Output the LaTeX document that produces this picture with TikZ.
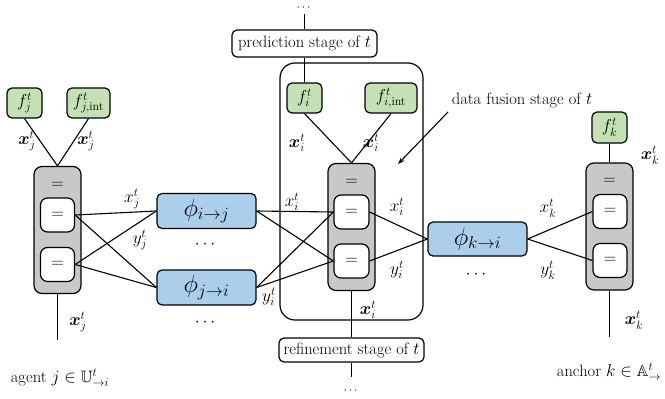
\documentclass[tikz,border=0pt]{standalone}
\usepackage{amsmath,amssymb,bm}
\usetikzlibrary{arrows.meta}
\definecolor{fgreen}{RGB}{197,224,180}
\definecolor{pblue}{RGB}{171,207,235}
\definecolor{cgray}{RGB}{200,200,200}
\begin{document}
\begin{tikzpicture}[x=1pt,y=-1pt,
  font=\fontsize{16.5}{19}\selectfont,
  line width=1.1pt,
  box/.style={draw, rounded corners=5pt, line width=1.2pt, inner sep=0pt},
  fnode/.style={box, fill=fgreen, font=\fontsize{17}{19}\selectfont},
  phinode/.style={box, fill=pblue, minimum width=99pt, minimum height=35pt, font=\fontsize{27}{29}\selectfont},
  graybox/.style={box, fill=cgray, rounded corners=8pt, minimum width=47pt, minimum height=127pt},
  eqbox/.style={box, fill=white, rounded corners=7pt, minimum width=34pt, minimum height=34pt, font=\fontsize{17}{19}\selectfont},
  eqlbl/.style={inner sep=0pt, font=\fontsize{17}{19}\selectfont},
  stagebox/.style={box, fill=white, inner xsep=2pt},
  lbl/.style={inner sep=0pt, font=\fontsize{17}{19}\selectfont},
  dotlbl/.style={inner sep=0pt, font=\fontsize{17}{19}\selectfont},
  smalldots/.style={inner sep=0pt, font=\fontsize{12}{14}\selectfont}
]
\useasboundingbox (0,0) rectangle (665,399);

% ---------- agent j ----------
\node[fnode, minimum width=35pt, minimum height=30pt] (fj) at (24.5,103) {$f^t_j$};
\node[fnode, minimum width=43pt, minimum height=30pt] (fjint) at (88.5,103) {$f^t_{j,\mathrm{int}}$};
\node[graybox] (gj) at (57.5,230) {};
\node[eqlbl] (eqj) at (57.5,185) {$=$};
\node[eqbox] (j1) at (57.5,215) {$=$};
\node[eqbox] (j2) at (57.5,264.5) {$=$};
\coordinate (jb) at (57.5,340);
\draw (fj.south) -- (gj.north);
\draw (fjint.south) -- (gj.north);
\draw (gj.south) -- (jb);
\node[lbl] at (27,141) {$\bm{x}^t_j$};
\node[lbl] at (86,141) {$\bm{x}^t_j$};
\node[lbl] at (78,322) {$\bm{x}^t_j$};
\node (agent) at (60,378) {agent $j\in\mathbb{U}^t_{\to i}$};

% ---------- phi nodes ----------
\node[phinode] (phiij) at (206.5,211) {$\phi_{i\to j}$};
\node[phinode] (phiji) at (206.5,287.5) {$\phi_{j\to i}$};
\node[dotlbl] (dots1) at (206.5,245) {$\cdots$};
\node[dotlbl] (dots2) at (206.5,323) {$\cdots$};
\draw (j1.east) -- (phiij.west);
\draw (j1.east) -- (phiji.west);
\draw (j2.east) -- (phiij.west);
\draw (j2.east) -- (phiji.west);
\node[lbl] at (132,199) {$x^t_j$};
\node[lbl] at (140,240) {$y^t_j$};

% ---------- agent i ----------
\node[draw, rounded corners=15pt, line width=1.2pt, minimum width=143pt, minimum height=257pt, inner sep=0pt] (fusion) at (351.5,191.5) {};
\node[stagebox, minimum width=145pt, minimum height=27pt] (pred) at (304.5,43.5) {prediction stage of $t$};
\node[smalldots] (topdots) at (304.5,8) {$\cdots$};
\coordinate (topc) at (304.5,14);
\node[fnode, minimum width=35pt, minimum height=30pt] (fi) at (304.5,98) {$f^t_i$};
\node[fnode, minimum width=52pt, minimum height=30pt] (fiint) at (391,98) {$f^t_{i,\mathrm{int}}$};
\node[graybox] (gi) at (351.5,227) {};
\node[eqlbl] (eqi) at (351.5,182) {$=$};
\node[eqbox, minimum width=35pt] (i1) at (351.5,212) {$=$};
\node[eqbox, minimum width=35pt] (i2) at (351.5,261) {$=$};
\node[stagebox, minimum width=145pt, minimum height=24pt] (refine) at (351.5,350) {refinement stage of $t$};
\coordinate (botc) at (351.5,377);
\node[smalldots] (botdots) at (351.5,391) {$\cdots$};
\draw (topc) -- (pred.north);
\draw (pred.south) -- (fi.north);
\draw (fi.south) -- (gi.north);
\draw (fiint.south) -- (gi.north);
\draw (gi.south) -- (refine.north);
\draw (refine.south) -- (botc);
\node[lbl] at (297,143) {$\bm{x}^t_i$};
\node[lbl] at (371,143) {$\bm{x}^t_i$};
\node[lbl] at (368,310) {$\bm{x}^t_i$};

\draw (phiij.east) -- (i1.west);
\draw (phiij.east) -- (i2.west);
\draw (phiji.east) -- (i1.west);
\draw (phiji.east) -- (i2.west);
\node[lbl] at (292,202) {$x^t_i$};
\node[lbl] at (269,297) {$y^t_i$};

\node (fuslbl) at (522,100) {data fusion stage of $t$};
\coordinate (arrs) at (448,112);
\coordinate (arre) at (398,164);
\draw[-{Stealth[length=7pt,width=5pt]}] (arrs) -- (arre);

% ---------- phi k->i ----------
\node[phinode, minimum height=34pt] (phiki) at (477.5,239) {$\phi_{k\to i}$};
\node[dotlbl] (dots3) at (477.5,275) {$\cdots$};
\draw (i1.east) -- (phiki.west);
\draw (i2.east) -- (phiki.west);
\node[lbl] at (397,207) {$x^t_i$};
\node[lbl] at (397,270) {$y^t_i$};

% ---------- anchor k ----------
\node[fnode, minimum width=35pt, minimum height=31pt] (fk) at (609.5,127.5) {$f^t_k$};
\node[graybox] (gk) at (609.5,226.5) {};
\node[eqlbl] (eqk) at (609.5,181) {$=$};
\node[eqbox] (k1) at (610,211.5) {$=$};
\node[eqbox] (k2) at (610,260.5) {$=$};
\coordinate (kb) at (609.5,337);
\draw (fk.south) -- (gk.north);
\draw (gk.south) -- (kb);
\draw (phiki.east) -- (k1.west);
\draw (phiki.east) -- (k2.west);
\node[lbl] at (548,208) {$x^t_k$};
\node[lbl] at (548,270) {$y^t_k$};
\node[lbl] at (650,155) {$\bm{x}^t_k$};
\node[lbl] at (634,320) {$\bm{x}^t_k$};
\node (anchor) at (609,372) {anchor $k\in\mathbb{A}^t_{\to}$};
\end{tikzpicture}
\end{document}
